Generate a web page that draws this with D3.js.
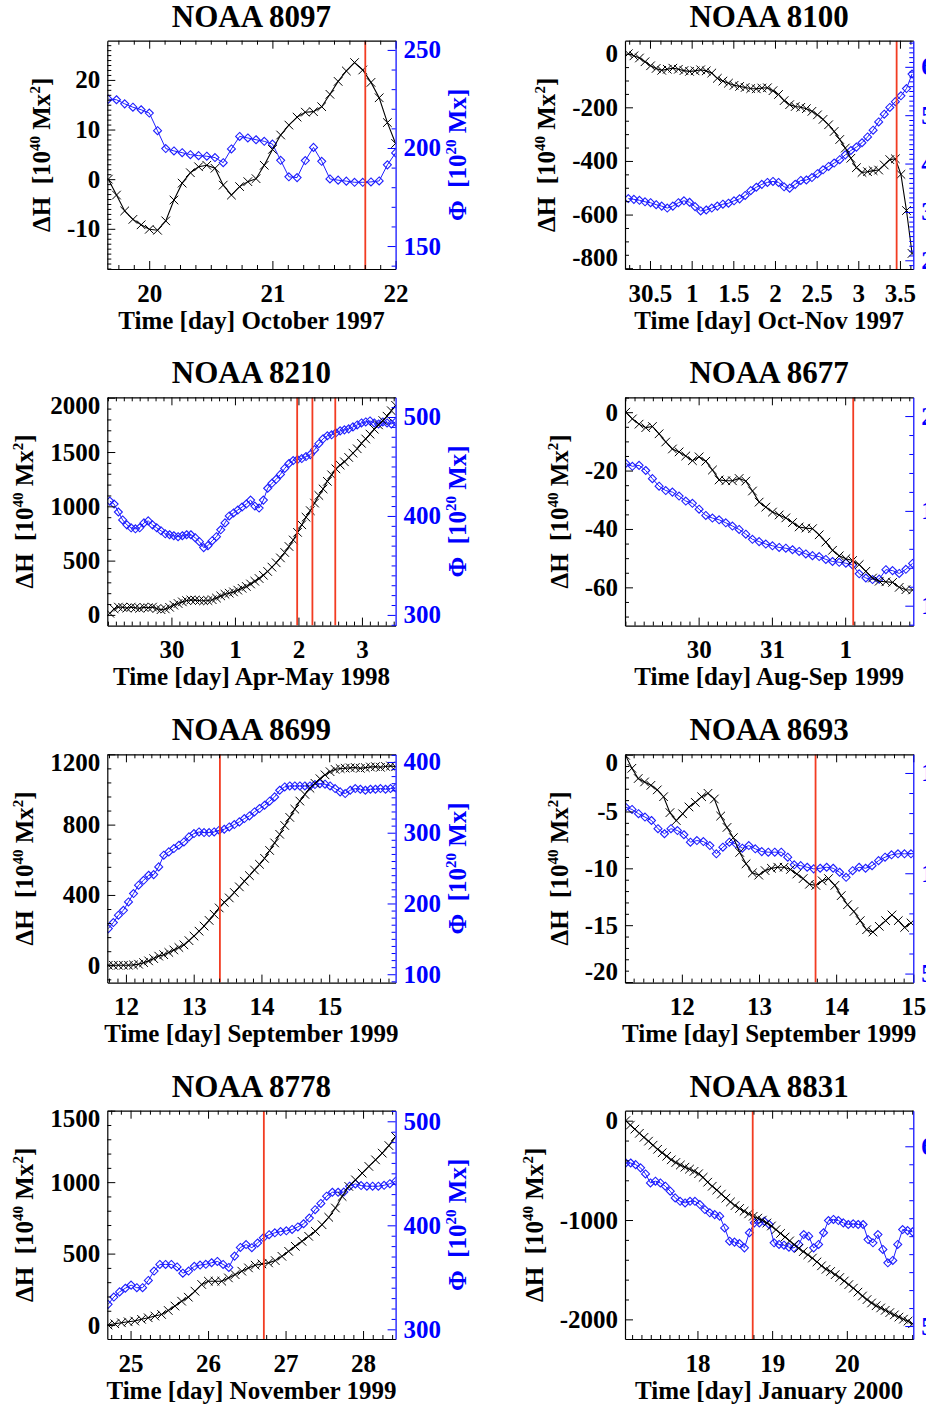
<!DOCTYPE html>
<html>
<head>
<meta charset="utf-8">
<script src="https://cdn.jsdelivr.net/npm/d3@7"></script>
<style>
  html, body { margin: 0; padding: 0; background: #fff; }
  svg { display: block; }
</style>
</head>
<body>
<svg id="chart" width="926" height="1425"></svg>
<script>
// ---------------------------
// Helicity injection (ΔH) and magnetic flux (Φ) for 8 active regions
// ---------------------------

// panel titles and x axis titles
const titles = ["NOAA 8097", "NOAA 8100", "NOAA 8210", "NOAA 8677",
                "NOAA 8699", "NOAA 8693", "NOAA 8778", "NOAA 8831"];
const xTitles = ["Time [day] October 1997", "Time [day] Oct-Nov 1997",
                 "Time [day] Apr-May 1998", "Time [day] Aug-Sep 1999",
                 "Time [day] September 1999", "Time [day] September 1999",
                 "Time [day] November 1999", "Time [day] January 2000"];

// x tick values (continuous day count) and their printed labels
const xTicks8097 = [20, 21, 22],                 xLabels8097 = ["20", "21", "22"];
const xTicks8100 = [0.5, 1, 1.5, 2, 2.5, 3, 3.5], xLabels8100 = ["30.5", "1", "1.5", "2", "2.5", "3", "3.5"];
const xTicks8210 = [30, 31, 32, 33],             xLabels8210 = ["30", "1", "2", "3"];
const xTicks8677 = [30, 31, 32],                 xLabels8677 = ["30", "31", "1"];
const xTicks8699 = [12, 13, 14, 15],             xLabels8699 = ["12", "13", "14", "15"];
const xTicks8693 = [12, 13, 14, 15],             xLabels8693 = ["12", "13", "14", "15"];
const xTicks8778 = [25, 26, 27, 28],             xLabels8778 = ["25", "26", "27", "28"];
const xTicks8831 = [18, 19, 20],                 xLabels8831 = ["18", "19", "20"];

// ΔH ticks (left) and Φ ticks (right)
const hTicks8097 = [-10, 0, 10, 20],            fTicks8097 = [150, 200, 250];
const hTicks8100 = [-800, -600, -400, -200, 0], fTicks8100 = [200, 300, 400, 500, 600];
const hTicks8210 = [0, 500, 1000, 1500, 2000],  fTicks8210 = [300, 400, 500];
const hTicks8677 = [-60, -40, -20, 0],          fTicks8677 = [100, 150, 200];
const hTicks8699 = [0, 400, 800, 1200],         fTicks8699 = [100, 200, 300, 400];
const hTicks8693 = [-20, -15, -10, -5, 0],      fTicks8693 = [50, 100, 150];
const hTicks8778 = [0, 500, 1000, 1500],        fTicks8778 = [300, 400, 500];
const hTicks8831 = [-2000, -1000, 0],           fTicks8831 = [500, 600];

// first and last sample time of each run (samples are evenly spaced)
const timeRange8097 = [19.668, 22.0];
const timeRange8100 = [0.24, 3.645];
const timeRange8210 = [29.03, 33.53];
const timeRange8677 = [29.005, 32.92];
const timeRange8699 = [11.74, 15.98];
const timeRange8693 = [11.27, 14.97];
const timeRange8778 = [24.71, 28.42];
const timeRange8831 = [17.04, 20.88];

// ΔH [10^40 Mx^2]
const dh8097 = [0, -3.2, -6.4, -8.1, -9.2, -10.1, -10.3, -8.4, -4.2, -0.8, 1.3, 2.5, 2.8, 2.2, -1.2, -3.2,
  -1.5, -0.5, 0.1, 2.8, 6.0, 8.9, 10.9, 12.5, 13.5, 13.6, 14.6, 17.1, 19.7, 21.8, 23.5, 22.0, 19.5, 16.4, 11.4, 7.2];
const dh8100 = [0, -8, -16, -30, -45, -55, -62, -58, -54, -58, -63, -66, -64, -60, -64, -72, -92, -102, -110,
  -118, -122, -126, -130, -131, -128, -127, -138, -152, -175, -190, -197, -200, -205, -215, -228, -245, -265,
  -290, -320, -352, -390, -425, -443, -440, -436, -434, -415, -395, -392, -450, -585, -745];
const dh8210 = [15, 55, 72, 70, 62, 72, 66, 60, 70, 66, 72, 58, 48, 55, 70, 90, 105, 120, 132, 138, 136, 132,
  130, 132, 140, 155, 175, 190, 200, 212, 228, 245, 262, 285, 310, 335, 365, 400, 440, 480, 525, 575, 630, 690,
  760, 830, 900, 960, 1030, 1100, 1160, 1230, 1290, 1345, 1380, 1410, 1450, 1490, 1530, 1580, 1620, 1665, 1710,
  1750, 1790, 1830, 1880, 1930];
const dh8677 = [0, -2.3, -4.1, -5.3, -4.9, -7.4, -10.2, -12.6, -13.6, -15.0, -16.6, -15.3, -16.8, -19.8, -23.2,
  -23.5, -23.5, -22.7, -23.6, -27.0, -30.8, -32.5, -34.2, -35.2, -36.2, -37.8, -39.3, -39.7, -39.9, -42.0, -44.5,
  -47.3, -49.2, -50.2, -50.8, -52.2, -54.5, -56.8, -57.9, -58.1, -58.3, -60.0, -60.8, -60.9];
const dh8699 = [0, 0, 0, 0, 0, 2, 6, 15, 25, 38, 52, 60, 73, 87, 101, 116, 140, 166, 194, 223, 255, 290, 326,
  358, 383, 414, 446, 478, 510, 542, 574, 608, 653, 696, 745, 795, 841, 888, 934, 972, 1007, 1035, 1061, 1083,
  1101, 1114, 1119, 1121, 1123, 1125, 1120, 1124, 1128, 1130, 1126, 1131, 1134, 1129];
const dh8693 = [-0.06, -1.2, -2.1, -2.4, -2.7, -3.1, -3.7, -5.1, -5.8, -5.2, -4.6, -4.2, -3.7, -3.4, -3.9, -5.4,
  -6.4, -7.3, -8.6, -9.6, -10.4, -10.6, -10.2, -10.0, -9.9, -9.9, -10.1, -10.5, -10.9, -11.4, -11.5, -11.1,
  -10.9, -11.5, -12.4, -13.2, -13.8, -14.6, -15.4, -15.6, -15.1, -14.6, -14.1, -14.6, -15.2, -14.8];
const dh8778 = [0, 9, 16, 23, 28, 40, 51, 63, 74, 102, 133, 167, 195, 237, 284, 307, 307, 307, 330, 353, 377,
  400, 419, 428, 435, 451, 481, 516, 551, 586, 621, 656, 702, 754, 819, 900, 970, 1016, 1063, 1110, 1156, 1203,
  1256, 1319];
const dh8831 = [0, -45, -85, -127, -168, -206, -247, -288, -323, -358, -394, -421, -446, -468, -488, -510, -534,
  -570, -619, -660, -698, -739, -780, -818, -855, -884, -911, -938, -962, -981, -1001, -1030, -1060, -1097,
  -1135, -1171, -1210, -1248, -1285, -1318, -1350, -1383, -1422, -1461, -1496, -1518, -1550, -1579, -1614,
  -1650, -1686, -1726, -1765, -1801, -1835, -1863, -1885, -1909, -1932, -1955, -1977, -1998, -2018, -2044];

// Φ [10^20 Mx]
const phi8097 = [224.9, 224.6, 222.5, 220.8, 219.5, 217.8, 208.8, 199.7, 198.5, 197.6, 196.6, 196.1, 195.8,
  195.1, 192.5, 199.5, 205.9, 205.1, 204.2, 203.4, 202.0, 193.7, 185.3, 184.9, 193.6, 200.3, 193.2, 184.2,
  183.6, 183.1, 182.5, 182.5, 182.7, 183.2, 191.4, 197.5];
const phi8100 = [327.6, 326, 324, 321, 319, 315, 312, 308, 312, 319, 323, 320, 311, 302, 304, 308, 312, 316,
  318, 323, 327, 334, 344, 351, 357, 361, 363, 361, 352, 349, 357, 365, 366, 371, 379, 387, 394, 401, 408, 418,
  427, 434, 443, 455, 469, 486, 502, 516, 528, 540, 555, 585];
const phi8210 = [415, 412, 404, 396, 391, 388, 387, 388, 393, 395, 391, 388, 385, 382, 381, 380, 379, 380, 381,
  381, 378, 374, 368, 370, 375, 379, 386, 393, 400, 403, 406, 409, 412, 416, 410, 408, 416, 428, 433, 437, 442,
  448, 453, 456, 457, 458, 460, 462, 467, 473, 478, 481, 482, 484, 486, 487, 488, 490, 492, 494, 495, 496, 494,
  493, 495, 494, 493, 495];
const phi8677 = [175, 173.5, 174, 171.3, 167, 163, 160.7, 159.9, 157.8, 155.2, 154, 150.9, 147.6, 146.2, 145.3,
  143.7, 142, 140.2, 137.7, 135, 133.8, 132.5, 131.6, 130.7, 130.3, 129.5, 128.6, 127.3, 126.4, 125.9, 124.4,
  123.3, 122.9, 122.4, 121.5, 116.8, 114.6, 113.8, 114, 119, 118.5, 117, 119.2, 122.3];
const phi8699 = [164.5, 173, 183.4, 190.4, 202.2, 214, 225.8, 232.8, 239.9, 240.8, 251.7, 268.2, 272.9, 277.6,
  282.3, 287, 294.1, 298.8, 301.1, 300.2, 300.2, 301.1, 303.5, 304.9, 308.2, 311.5, 315.3, 320, 323.7, 329.4,
  334.1, 338.8, 344.5, 350.6, 360, 364.7, 366.1, 366.1, 366.1, 366.1, 366.1, 368, 369.4, 368.5, 366.1, 362.4,
  357.7, 355.3, 360, 362.4, 361.4, 360, 361.4, 361.4, 362.4, 361.4, 362.4, 363.3];
const phi8693 = [133, 131.8, 129.7, 128, 126.3, 122.2, 119.7, 122.2, 121.3, 119.2, 115.5, 116.3, 115.8, 113.8,
  109.7, 113, 115.5, 114.7, 112.5, 113.8, 112.2, 110.8, 110.5, 110.5, 110.5, 108, 104.2, 103.8, 103, 102.2,
  102.5, 103, 102.5, 100.5, 98, 101.3, 103, 102.5, 103.8, 106.3, 108, 109.2, 109.7, 109.7, 109.7];
const phi8778 = [324, 331, 336, 339.5, 342.5, 340, 340, 347, 356, 362.4, 362.4, 362.4, 360, 354, 356, 360.6,
  361.8, 362.5, 364, 365.3, 362.4, 359.5, 370.4, 378.7, 381.5, 378.5, 383, 388, 391, 392.8, 394, 394.7, 396,
  398.4, 401.5, 407, 415, 421, 428, 431.8, 431.8, 432, 437.6, 439.8, 438.2, 437.6, 437.6, 437.6, 438.5, 440,
  442.4];
const phi8831 = [590.7, 590.7, 589.8, 588, 584.6, 579.6, 580.6, 579.6, 577.8, 575, 571.3, 569.4, 568.5, 569.4,
  569.4, 567.6, 564.8, 563, 562, 561.1, 554.6, 547.2, 546.7, 545.9, 543.5, 551.9, 557.4, 557.4, 558.3, 556.5,
  546.3, 545.4, 545, 543.9, 543.5, 545.4, 550.9, 550, 543.5, 545.4, 551.9, 558.7, 559.3, 558.7, 557.4, 556.5,
  556.9, 556.5, 556.5, 548.1, 546.3, 550.9, 542.6, 535.2, 536.5, 545.4, 553.7, 553.1, 552.4];

// flare times (red vertical lines)
const flare8097 = [21.754];
const flare8100 = [3.46];
const flare8210 = [31.98, 32.22, 32.58];
const flare8677 = [32.11];
const flare8699 = [13.387];
const flare8693 = [13.733];
const flare8778 = [26.72];
const flare8831 = [18.74];

// ---------------------------
// per panel settings (axis ranges and minor tick steps)
// ---------------------------
const panels = [
  { xDomain: [19.66, 22.0],   xTicks: xTicks8097, xLabels: xLabels8097, xMinor: 0.125,
    hDomain: [-18.1, 27.9],   hTicks: hTicks8097, hMinor: 1,
    fDomain: [138.3, 254.7],  fTicks: fTicks8097, fMinor: 10,
    tRange: timeRange8097, dh: dh8097, phi: phi8097, flares: flare8097 },
  { xDomain: [0.2, 3.66],     xTicks: xTicks8100, xLabels: xLabels8100, xMinor: 0.125,
    hDomain: [-803, 48.5],    hTicks: hTicks8100, hMinor: 50,
    fDomain: [182, 654],      fTicks: fTicks8100, fMinor: 10,
    tRange: timeRange8100, dh: dh8100, phi: phi8100, flares: flare8100 },
  { xDomain: [28.99, 33.53],  xTicks: xTicks8210, xLabels: xLabels8210, xMinor: 0.125,
    hDomain: [-98.5, 2004],   hTicks: hTicks8210, hMinor: 100,
    fDomain: [289.2, 519.9],  fTicks: fTicks8210, fMinor: 10,
    tRange: timeRange8210, dh: dh8210, phi: phi8210, flares: flare8210 },
  { xDomain: [28.995, 32.93], xTicks: xTicks8677, xLabels: xLabels8677, xMinor: 0.125,
    hDomain: [-73.1, 5.1],    hTicks: hTicks8677, hMinor: 5,
    fDomain: [89.5, 209.9],   fTicks: fTicks8677, fMinor: 10,
    tRange: timeRange8677, dh: dh8677, phi: phi8677, flares: flare8677 },
  { xDomain: [11.725, 15.98], xTicks: xTicks8699, xLabels: xLabels8699, xMinor: 0.125,
    hDomain: [-98.6, 1200],   hTicks: hTicks8699, hMinor: 80,
    fDomain: [88.2, 410.8],   fTicks: fTicks8699, fMinor: 10,
    tRange: timeRange8699, dh: dh8699, phi: phi8699, flares: flare8699 },
  { xDomain: [11.263, 15.0],  xTicks: xTicks8693, xLabels: xLabels8693, xMinor: 0.125,
    hDomain: [-20.05, 0.03],  hTicks: hTicks8693, hMinor: 1,
    fDomain: [45.5, 159.3],   fTicks: fTicks8693, fMinor: 10,
    tRange: timeRange8693, dh: dh8693, phi: phi8693, flares: flare8693 },
  { xDomain: [24.7, 28.42],   xTicks: xTicks8778, xLabels: xLabels8778, xMinor: 0.125,
    hDomain: [-97.6, 1500],   hTicks: hTicks8778, hMinor: 100,
    fDomain: [290.7, 510.2],  fTicks: fTicks8778, fMinor: 10,
    tRange: timeRange8778, dh: dh8778, phi: phi8778, flares: flare8778 },
  { xDomain: [17.03, 20.89],  xTicks: xTicks8831, xLabels: xLabels8831, xMinor: 0.125,
    hDomain: [-2197.7, 100.5], hTicks: hTicks8831, hMinor: 200,
    fDomain: [492.8, 619.8],  fTicks: fTicks8831, fMinor: 10,
    tRange: timeRange8831, dh: dh8831, phi: phi8831, flares: flare8831 }
];

// ---------------------------
// layout
// ---------------------------
const FONT = '"Liberation Serif", "Times New Roman", Times, serif';
const BLUE = "#0000ff";
const LINE_BLUE = "#1f1fff";
const RED = "#f23c22";
const colLeft = [107.3, 625];
const rowTop = [40.7, 397.3, 754.3, 1110.7];
const plotW = 288.3, plotH = 228.3;

const svg = d3.select("#chart")
  .attr("font-family", FONT)
  .attr("font-weight", "bold");

// minor tick values between majors
function minorValues(domain, step, majors) {
  const lo = Math.min(domain[0], domain[1]), hi = Math.max(domain[0], domain[1]);
  const out = [];
  for (let k = Math.ceil(lo / step - 1e-9); k * step <= hi + 1e-9; k++) {
    const v = +(k * step).toFixed(6);
    if (!majors.some(m => Math.abs(m - v) < step * 1e-3)) out.push(v);
  }
  return out;
}

// text with superscripts, parts = [[text, isSup], ...]
function supText(sel, parts) {
  let raised = false;
  parts.forEach(([txt, sup]) => {
    const t = sel.append("tspan").text(txt);
    if (sup && !raised) { t.attr("dy", -10).attr("font-size", 15); raised = true; }
    else if (sup) { t.attr("font-size", 15); }
    else if (raised) { t.attr("dy", 10); raised = false; }
  });
}

panels.forEach((p, i) => {
  const col = i % 2, row = Math.floor(i / 2);
  const left = colLeft[col], top = rowTop[row];
  const right = left + plotW, bottom = top + plotH;
  const g = svg.append("g").attr("class", "panel");

  const x = d3.scaleLinear().domain(p.xDomain).range([left, right]);
  const yH = d3.scaleLinear().domain(p.hDomain).range([bottom, top]);
  const yF = d3.scaleLinear().domain(p.fDomain).range([bottom, top]);

  // clip region for the curves
  svg.append("clipPath").attr("id", "clip" + i)
    .append("rect").attr("x", left).attr("y", top).attr("width", plotW).attr("height", plotH);

  // evenly spaced sample times across the run
  const samples = arr => arr.map((v, k) => [p.tRange[0] + k * (p.tRange[1] - p.tRange[0]) / (arr.length - 1), v]);
  const hPts = samples(p.dh), fPts = samples(p.phi);

  const curves = g.append("g").attr("clip-path", `url(#clip${i})`);

  // Φ : blue line with diamonds
  curves.append("path")
    .datum(fPts)
    .attr("fill", "none").attr("stroke", LINE_BLUE).attr("stroke-width", 1)
    .attr("d", d3.line().x(d => x(d[0])).y(d => yF(d[1])));
  curves.append("g").selectAll("path")
    .data(fPts).enter().append("path")
    .attr("transform", d => `translate(${x(d[0])},${yF(d[1])})`)
    .attr("d", "M0,-4L4,0L0,4L-4,0Z")
    .attr("fill", "none").attr("stroke", LINE_BLUE).attr("stroke-width", 1.1);

  // ΔH : black line with crosses
  curves.append("path")
    .datum(hPts)
    .attr("fill", "none").attr("stroke", "#000").attr("stroke-width", 1.1)
    .attr("d", d3.line().x(d => x(d[0])).y(d => yH(d[1])));
  curves.append("g").selectAll("path")
    .data(hPts).enter().append("path")
    .attr("transform", d => `translate(${x(d[0])},${yH(d[1])})`)
    .attr("d", "M-4.3,-4.3L4.3,4.3M-4.3,4.3L4.3,-4.3")
    .attr("stroke", "#000").attr("stroke-width", 1);

  // flare markers
  curves.append("g").selectAll("line")
    .data(p.flares).enter().append("line")
    .attr("x1", d => x(d)).attr("x2", d => x(d))
    .attr("y1", top).attr("y2", bottom)
    .attr("stroke", RED).attr("stroke-width", 1.8);

  // ---- axes (IDL style: ticks point inward) ----
  function drawAxis(gen, scale, majors, fmt, minorStep, transform, color, pad) {
    const a = g.append("g").attr("transform", transform).attr("color", color);
    a.call(gen(scale).tickValues(majors).tickSize(-8).tickSizeOuter(0).tickPadding(pad).tickFormat(fmt));
    a.attr("font-size", 25).attr("font-family", FONT).attr("font-weight", "bold");
    a.selectAll(".tick line").attr("stroke-width", 1);
    a.select(".domain").attr("stroke-width", 1.2);
    const m = g.append("g").attr("transform", transform).attr("color", color);
    m.call(gen(scale).tickValues(minorValues(scale.domain(), minorStep, majors)).tickSize(-4).tickFormat(() => ""));
    m.select(".domain").remove();
    return a;
  }

  drawAxis(d3.axisBottom, x, p.xTicks, (d, k) => p.xLabels[k], p.xMinor, `translate(0,${bottom})`, "#000", 15);
  drawAxis(d3.axisTop, x, p.xTicks, () => "", p.xMinor, `translate(0,${top})`, "#000", 0);
  const aL = drawAxis(d3.axisLeft, yH, p.hTicks, d => String(d), p.hMinor, `translate(${left},0)`, "#000", 7);
  const aR = drawAxis(d3.axisRight, yF, p.fTicks, d => String(d), p.fMinor, `translate(${right},0)`, BLUE, 8);

  // labels of ticks sitting on the frame edge are pushed inward
  [[aL, yH], [aR, yF]].forEach(([a, s]) => {
    a.selectAll(".tick text").each(function (d) {
      const py = s(d);
      if (Math.abs(py - top) < 3) d3.select(this).attr("y", 8);
      if (Math.abs(py - bottom) < 3) d3.select(this).attr("y", -11);
    });
  });

  // panel title
  g.append("text")
    .attr("x", (left + right) / 2).attr("y", top - 14)
    .attr("text-anchor", "middle").attr("font-size", 31)
    .text(titles[i]);

  // x title
  g.append("text")
    .attr("x", (left + right) / 2).attr("y", bottom + 59.5)
    .attr("text-anchor", "middle").attr("font-size", 25)
    .text(xTitles[i]);

  // y titles placed just outside the tick labels
  let minX = Infinity, maxX = -Infinity;
  aL.selectAll(".tick text").each(function () { minX = Math.min(minX, left + this.getBBox().x); });
  aR.selectAll(".tick text").each(function () { const b = this.getBBox(); maxX = Math.max(maxX, right + b.x + b.width); });
  const cy = (top + bottom) / 2;

  const tH = g.append("text")
    .attr("transform", `translate(${minX - 17},${cy}) rotate(-90)`)
    .attr("text-anchor", "middle").attr("font-size", 25)
    .style("white-space", "pre");
  supText(tH, [["ΔH  [10", false], ["40", true], [" Mx", false], ["2", true], ["]", false]]);

  const tF = g.append("text")
    .attr("transform", `translate(${maxX + 25},${cy}) rotate(-90)`)
    .attr("text-anchor", "middle").attr("font-size", 25).attr("fill", BLUE)
    .style("white-space", "pre");
  supText(tF, [["Φ  [10", false], ["20", true], [" Mx]", false]]);
});
</script>
</body>
</html>
